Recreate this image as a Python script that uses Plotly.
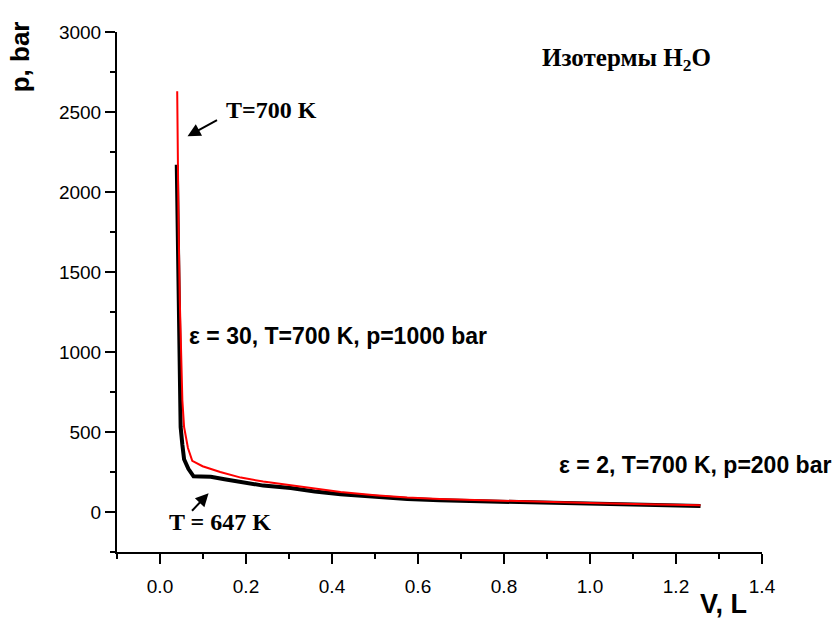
import plotly.graph_objects as go

# Isotherm T = 647 K (black)
v_647 = [0.039, 0.040, 0.041, 0.042, 0.044, 0.0465, 0.048, 0.052, 0.054, 0.056,
         0.066, 0.078, 0.095, 0.118, 0.15, 0.188, 0.24, 0.304, 0.36, 0.42,
         0.50, 0.575, 0.65, 0.746, 0.85, 1.00, 1.13, 1.257]
p_647 = [2170, 2000, 1820, 1320, 1000, 698, 531, 420, 360, 330,
         270, 223, 222, 220, 205, 188, 165, 150, 128, 111,
         95, 81, 73, 67, 60, 52, 44, 37]

# Isotherm T = 700 K (red)
v_700 = [0.040, 0.041, 0.043, 0.046, 0.049, 0.052, 0.056, 0.065, 0.075, 0.099,
         0.14, 0.188, 0.24, 0.304, 0.36, 0.42, 0.50, 0.575, 0.65, 0.746,
         0.792, 0.90, 1.00, 1.13, 1.257]
p_700 = [2630, 2300, 1823, 1323, 1000, 698, 531, 400, 320, 286,
         250, 215, 190, 167, 145, 125, 105, 90, 81, 73,
         69, 62, 56, 48, 42]

x_ticks = [0.0, 0.2, 0.4, 0.6, 0.8, 1.0, 1.2, 1.4]
y_ticks = [0, 500, 1000, 1500, 2000, 2500, 3000]

SANS = "Liberation Sans, Arial, sans-serif"
SERIF = "Liberation Serif, Times New Roman, serif"

fig = go.Figure()
fig.add_trace(go.Scatter(x=v_647, y=p_647, mode="lines",
                         line=dict(color="black", width=4), showlegend=False))
fig.add_trace(go.Scatter(x=v_700, y=p_700, mode="lines",
                         line=dict(color="red", width=2), showlegend=False))

axis_common = dict(
    showgrid=False, zeroline=False, showline=True, linecolor="black", linewidth=2,
    ticks="outside", ticklen=10, tickwidth=2, tickcolor="black",
    tickfont=dict(family=SANS, size=19, color="black"),
)
fig.update_xaxes(range=[-0.1, 1.4], tickvals=x_ticks, tickformat=".1f",
                 minor=dict(dtick=0.1, tick0=0, ticks="outside", ticklen=5,
                            tickwidth=2, tickcolor="black"),
                 ticklabelstandoff=6, **axis_common)
fig.update_yaxes(range=[-250, 3000], tickvals=y_ticks,
                 minor=dict(dtick=250, tick0=0, ticks="outside", ticklen=5,
                            tickwidth=2, tickcolor="black"),
                 **axis_common)

ann = []
# axis titles
ann.append(dict(text="<b>p, bar</b>", xref="paper", yref="paper", x=-0.149, y=0.953,
                textangle=-90, showarrow=False, xanchor="center", yanchor="middle",
                font=dict(family=SANS, size=26, color="black")))
ann.append(dict(text="<b>V, L</b>", xref="paper", yref="paper", x=0.941, y=-0.1,
                showarrow=False, xanchor="center", yanchor="middle",
                font=dict(family=SANS, size=27, color="black")))
# title
ann.append(dict(text="<b>Изотермы H<sub>2</sub>O</b>", x=1.286, y=2830,
                showarrow=False, xanchor="right", yanchor="middle",
                font=dict(family=SERIF, size=25, color="black")))
# text labels
ann.append(dict(text="<b>T=700 K</b>", x=0.148, y=2511, showarrow=False,
                xanchor="left", yanchor="middle",
                font=dict(family=SERIF, size=24, color="black")))
ann.append(dict(text="<b>T = 647 K</b>", x=0.0156, y=-64, showarrow=False,
                xanchor="left", yanchor="middle",
                font=dict(family=SERIF, size=24, color="black")))
ann.append(dict(text="<b>ε = 30, T=700 K, p=1000 bar</b>", x=0.0626, y=1098,
                showarrow=False, xanchor="left", yanchor="middle",
                font=dict(family=SANS, size=23, color="black")))
ann.append(dict(text="<b>ε = 2, T=700 K, p=200 bar</b>", xref="paper", x=1.11, y=292,
                showarrow=False, xanchor="right", yanchor="middle",
                font=dict(family=SANS, size=23, color="black")))
# arrows
ann.append(dict(text="", x=0.064, y=2348, ax=31, ay=-17, showarrow=True,
                arrowhead=2, arrowsize=1.3, arrowwidth=2, arrowcolor="black"))
ann.append(dict(text="", x=0.113, y=117, ax=-18, ay=19, showarrow=True,
                arrowhead=2, arrowsize=1.3, arrowwidth=2, arrowcolor="black"))

fig.update_layout(
    width=838, height=622,
    margin=dict(l=117, r=76, t=32, b=70),
    paper_bgcolor="white", plot_bgcolor="white",
    annotations=ann,
)

fig.write_html("out.html",
               config={"displayModeBar": False},
               post_script="document.body.style.margin='0px';document.body.style.overflow='hidden';")
